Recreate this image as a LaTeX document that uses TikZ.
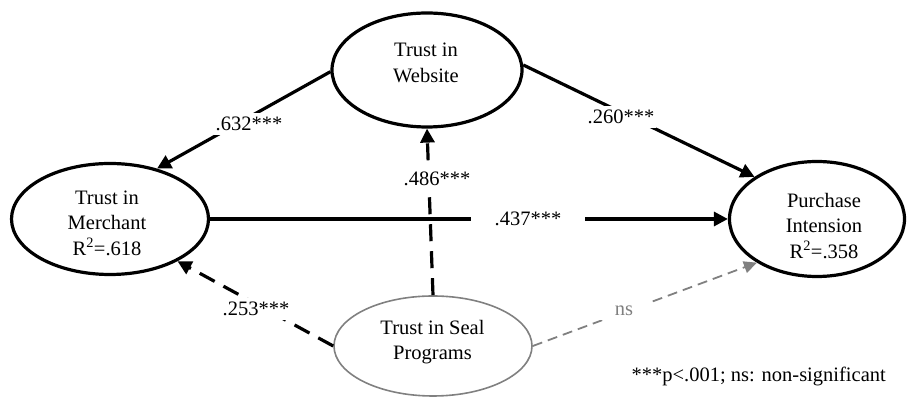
\documentclass[tikz,border=0pt]{standalone}
\usepackage{fontspec}
\setmainfont{Liberation Serif}
\usetikzlibrary{arrows.meta,shapes.geometric}
\definecolor{sealgray}{RGB}{128,128,128}
\begin{document}
\begin{tikzpicture}[x=1pt,y=1pt,
  txt/.style={font=\fontsize{20.5pt}{25.5pt}\selectfont, align=center, inner sep=0pt},
  latent/.style={ellipse, draw=black, line width=3.2pt, inner sep=0pt},
  sealnode/.style={ellipse, draw=sealgray, line width=1.6pt, inner sep=0pt},
  solidarr/.style={line width=3.2pt, -{Triangle[length=14pt,width=14pt]}},
  dasharr/.style={solidarr, dash pattern=on 17pt off 10pt},
  grayarr/.style={draw=sealgray, line width=1.8pt, dash pattern=on 10pt off 6pt, -{Triangle[length=13pt,width=12pt]}},
  lab/.style={font=\fontsize{20.5pt}{25.5pt}\selectfont, fill=white, inner xsep=2pt, inner ysep=4pt},
]
\useasboundingbox (0,0) rectangle (911,398);

% ellipses
\node[latent, minimum width=190pt, minimum height=114pt] (W) at (427,328) {};
\node[latent, minimum width=197pt, minimum height=111pt] (M) at (110,179) {};
\node[latent, minimum width=175pt, minimum height=115pt] (P) at (817,179) {};
\node[sealnode, minimum width=198pt, minimum height=100pt] (S) at (433,52) {};

% texts
\node[txt] (Wt) at (426,335) {Trust in\\Website};
\node[txt] (Mt) at (107,175) {Trust in\\Merchant\\R\textsuperscript{2}=.618};
\node[txt] (Pt) at (824,172) {Purchase\\Intension\\R\textsuperscript{2}=.358};
\node[txt] (St) at (432.5,56) {Trust in Seal\\Programs};

% paths
\draw[solidarr] (W.181) -- (M.47);
\draw[solidarr] (W.3) -- (P.146);
\draw[solidarr] (M.east) -- (P.west);
\draw[dasharr] (S.north) -- (W.south);
\draw[dasharr] (S.west) -- (M.328);
\draw[grayarr] (S.east) -- (P.216);

% labels
\node[lab] (l1) at (249,274) {.632***};
\node[lab] (l2) at (621,281) {.260***};
\node[lab, inner xsep=24pt] (l3) at (528,179) {.437***};
\node[lab, inner ysep=8pt] (l4) at (437,219) {.486***};
\node[lab] (l5) at (256,89) {.253***};
\node[lab, text=sealgray, inner xsep=16pt] (l6) at (624,87) {ns};

\node[txt, anchor=base east] (note) at (886,16) {***p<.001; ns: non-significant};
\end{tikzpicture}
\end{document}
